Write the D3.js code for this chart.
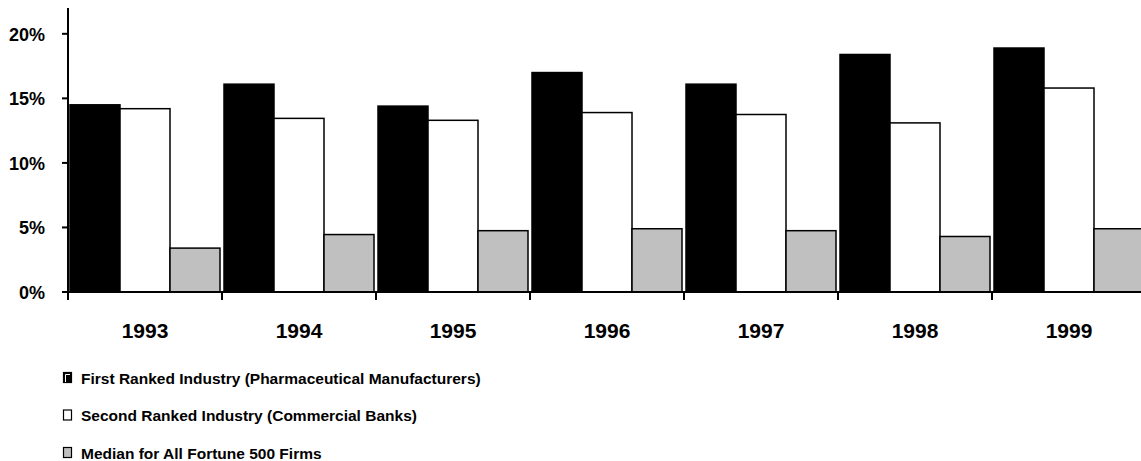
<!DOCTYPE html>
<meta charset="utf-8">
<head>
  <title>Return on revenues</title>
</head>
<style>
    body {
        margin: 0;
        background-color: white;
    }

    svg text {
        font-family: "Liberation Sans", Arial, sans-serif;
        font-weight: bold;
        fill: #000;
    }

    .bar {
        stroke: #000;
        stroke-width: 1.5px;
    }
</style>
<body>
    <svg id="chart" width="1141" height="461"></svg>

    <script src="https://cdn.jsdelivr.net/npm/d3@7"></script>
    <script>
        var years = ["1993", "1994", "1995", "1996", "1997", "1998", "1999"];
        var seriesNames = [
            "First Ranked Industry (Pharmaceutical Manufacturers)",
            "Second Ranked Industry (Commercial Banks)",
            "Median for All Fortune 500 Firms"
        ];
        var pharma = [14.5, 16.1, 14.4, 17.0, 16.1, 18.4, 18.9];
        var banks = [14.2, 13.45, 13.3, 13.9, 13.75, 13.1, 15.8];
        var median = [3.4, 4.45, 4.75, 4.9, 4.75, 4.3, 4.9];
        var yTicks = [0, 5, 10, 15, 20];
        var colors = ["#000000", "#ffffff", "#c0c0c0"];

        var values = [pharma, banks, median];

        var plotLeft = 68,
            plotBottom = 292,
            plotTop = 8,
            bandW = 154;

        var svg = d3.select("#chart");

        var x = d3.scaleBand()
            .domain(years)
            .range([plotLeft, plotLeft + bandW * years.length])
            .padding(0);

        var xInner = d3.scaleBand()
            .domain(d3.range(seriesNames.length))
            .range([2, bandW - 2])
            .padding(0);

        var y = d3.scaleLinear()
            .domain([0, 22])
            .range([plotBottom, plotTop]);

        // bars
        var groups = svg.append("g")
            .selectAll("g")
            .data(years)
            .enter()
            .append("g")
            .attr("transform", function(d) { return "translate(" + x(d) + ",0)"; });

        groups.selectAll("rect")
            .data(function(d, i) { return values.map(function(s, j) { return { s: j, v: s[i] }; }); })
            .enter()
            .append("rect")
            .attr("class", "bar")
            .attr("x", function(d) { return xInner(d.s); })
            .attr("width", xInner.bandwidth())
            .attr("y", function(d) { return y(d.v); })
            .attr("height", function(d) { return plotBottom - y(d.v); })
            .attr("fill", function(d) { return colors[d.s]; });

        // y axis
        var yAxis = svg.append("g")
            .attr("transform", "translate(" + plotLeft + ",0)");

        yAxis.append("line")
            .attr("x1", 0).attr("x2", 0)
            .attr("y1", plotTop).attr("y2", plotBottom)
            .attr("stroke", "#000")
            .attr("stroke-width", 2);

        var yt = yAxis.selectAll("g.tick")
            .data(yTicks)
            .enter()
            .append("g")
            .attr("class", "tick")
            .attr("transform", function(d) { return "translate(0," + y(d) + ")"; });

        yt.append("line")
            .attr("x1", -6).attr("x2", 0)
            .attr("stroke", "#000")
            .attr("stroke-width", 2);

        yt.append("text")
            .attr("x", -23)
            .attr("dy", "0.38em")
            .attr("text-anchor", "end")
            .style("font-size", "18px")
            .text(function(d) { return d + "%"; });

        // x axis
        var xAxis = svg.append("g");

        xAxis.append("line")
            .attr("x1", plotLeft).attr("x2", 1141)
            .attr("y1", plotBottom).attr("y2", plotBottom)
            .attr("stroke", "#000")
            .attr("stroke-width", 2);

        xAxis.selectAll("line.tick")
            .data(years)
            .enter()
            .append("line")
            .attr("class", "tick")
            .attr("x1", function(d) { return x(d); })
            .attr("x2", function(d) { return x(d); })
            .attr("y1", plotBottom)
            .attr("y2", plotBottom + 8)
            .attr("stroke", "#000")
            .attr("stroke-width", 2);

        xAxis.selectAll("text")
            .data(years)
            .enter()
            .append("text")
            .attr("x", function(d) { return x(d) + x.bandwidth() / 2; })
            .attr("y", 338)
            .attr("text-anchor", "middle")
            .style("font-size", "21px")
            .text(function(d) { return d; });

        // legend
        var legend = svg.append("g")
            .selectAll("g")
            .data(seriesNames)
            .enter()
            .append("g")
            .attr("transform", function(d, i) { return "translate(63," + (378 + i * 37.5) + ")"; });

        legend.append("rect")
            .attr("x", 0.5)
            .attr("y", -5.5)
            .attr("width", 8)
            .attr("height", 10)
            .attr("fill", function(d, i) { return colors[i]; })
            .attr("stroke", "#000")
            .attr("stroke-width", 1.2);

        legend.filter(function(d, i) { return i === 0; })
            .append("path")
            .attr("d", "M2.5,4V-3.5H7")
            .attr("fill", "none")
            .attr("stroke", "#fff")
            .attr("stroke-width", 1);

        legend.append("text")
            .attr("x", 18)
            .attr("dy", "0.36em")
            .style("font-size", "15.5px")
            .text(function(d) { return d; });
    </script>
</body>
